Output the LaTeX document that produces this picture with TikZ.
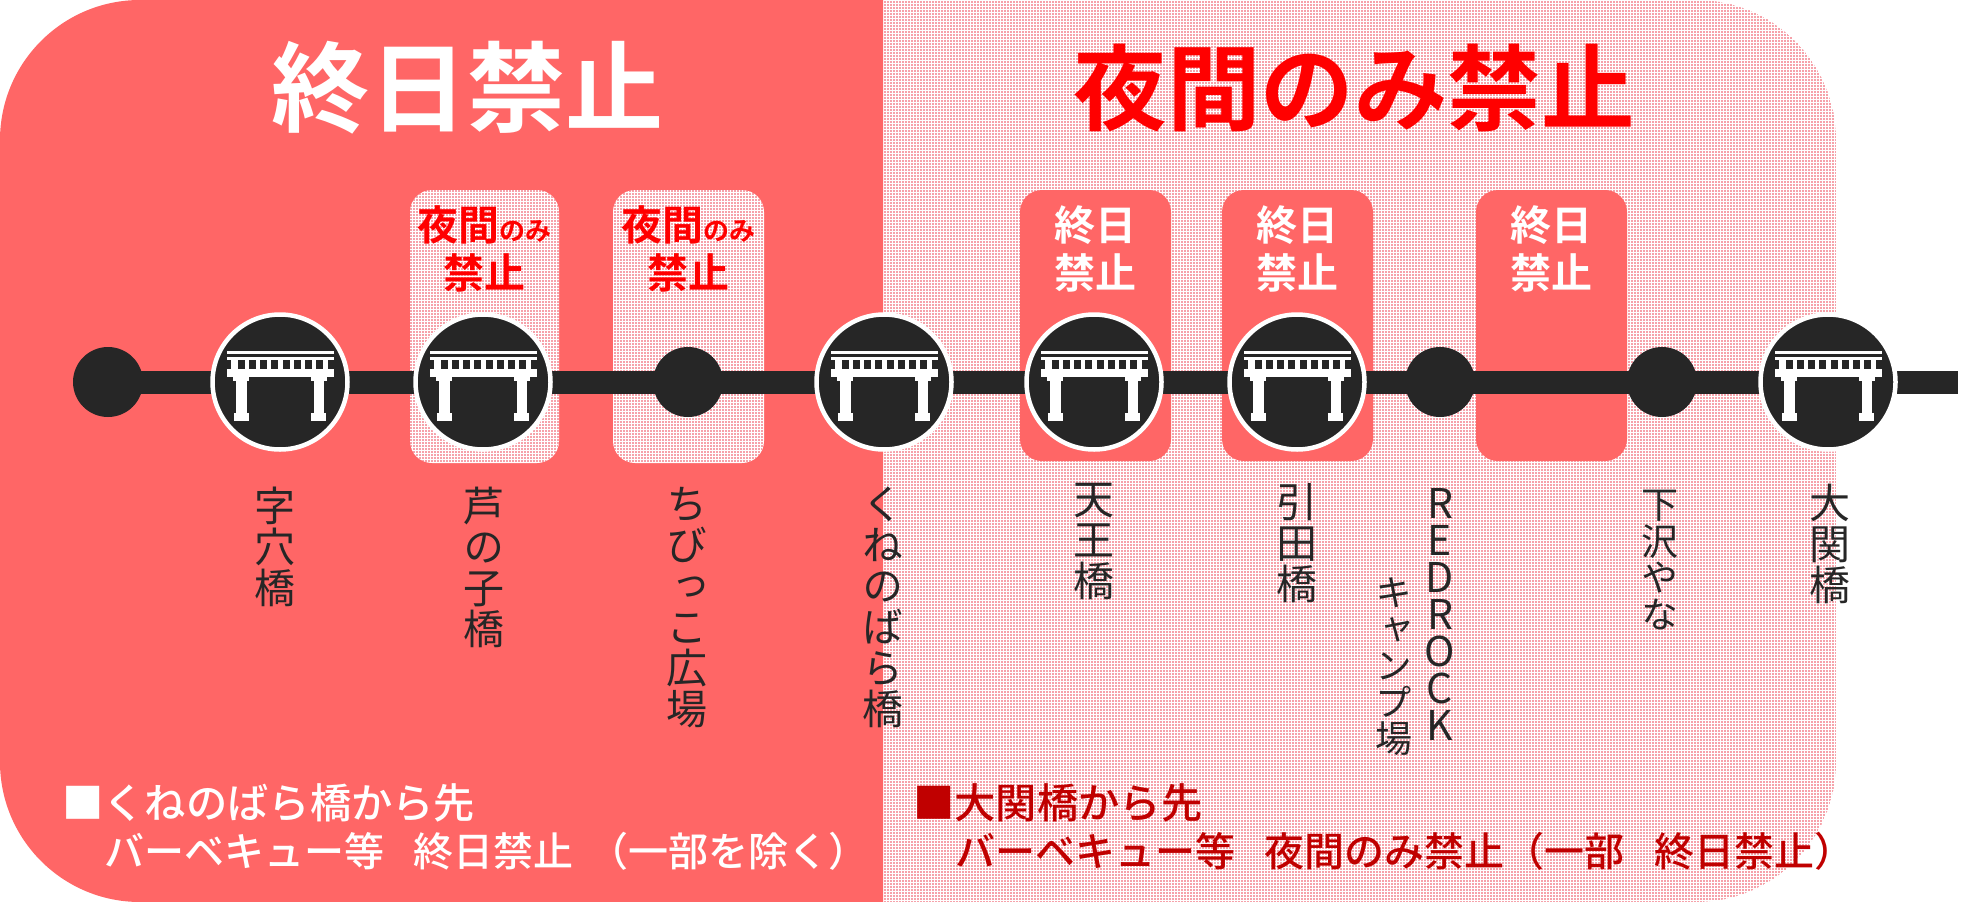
\documentclass[tikz,border=0pt]{standalone}
\usepackage{fontspec}
\setmainfont{Noto Sans CJK JP}[BoldFont={Noto Sans CJK JP Bold}]
\newfontfamily\vertfont{Noto Sans CJK JP}[RawFeature=+vert]
\newfontfamily\notefont{Noto Sans CJK JP Medium}
\usetikzlibrary{patterns.meta}
\definecolor{solidred}{HTML}{FF6666}
\definecolor{railblack}{HTML}{262626}
\definecolor{dotred}{HTML}{EE4453}
\definecolor{darkred}{HTML}{C00000}
\pgfdeclarelayer{bg}
\pgfsetlayers{bg,main}
\newcommand{\fs}[2]{\fontsize{#1}{#2}\selectfont}
\tikzset{
  x=1pt,y=-1pt,
  dotted area/.style={fill=white,postaction={pattern={Dots[radius=.8pt,distance=3pt]},pattern color=dotred}},
  dotpanel/.style={dotted area},
  solidpanel/.style={fill=solidred},
  rail/.style={draw=railblack,line width=23pt},
  stationdot/.style={circle,fill=railblack,minimum size=70pt,inner sep=0pt},
  bridgedisc/.style={circle,fill=railblack,draw=white,line width=4.5pt,minimum size=135pt,inner sep=0pt},
  vlabel/.style={anchor=north,inner sep=0pt,align=center,text=railblack,font=\vertfont\fs{41}{41}},
  vlatin/.style={vlabel,font=\vertfont\fs{41}{37}},
  vsmall/.style={vlabel,font=\vertfont\fs{37}{36.5}},
  paneltext/.style={inner sep=0pt,align=center,font=\bfseries\fs{41}{48}},
  titletext/.style={inner sep=0pt,font=\bfseries\fs{98}{98}},
  titletextb/.style={inner sep=0pt,font=\bfseries\fs{93.5}{98}},
  notetext/.style={anchor=west,inner sep=0pt,font=\notefont\fs{41.3}{47}},
  notetextb/.style={anchor=west,inner sep=0pt,font=\notefont\fs{40}{47}},
  torii/.pic={
    \begin{scope}[xshift=.4pt]
    \fill[white] (-53.3,-31.3) rectangle (53.3,-28);
    \fill[white] (-53.3,-25) rectangle (53.3,-21.7);
    \fill[white] (-49,-21.7) rectangle (49,-12.7);
    \foreach \k in {0,...,8}{\fill[railblack] ({-42.7+11.23*\k},-21.7) rectangle ++(7,9);}
    \fill[white] (-53.3,-12.7) rectangle (53.3,-5.3);
    \foreach \s in {-1,1}{
      \fill[white] ({\s*31},-5.3) rectangle ({\s*47},-1.3);
      \fill[white] ({\s*33.3},-1.3) rectangle ({\s*44},30.7);
      \fill[white] ({\s*31},30.7) rectangle ({\s*46},38.7);
    }
    \end{scope}
  }
}
\begin{document}
\begin{tikzpicture}
\useasboundingbox (0,0) rectangle (1970,902);
% stations
\node[stationdot] (s1) at (108,382) {};
\node[bridgedisc] (b1) at (280,382) {};
\node[bridgedisc] (b2) at (483,382) {};
\node[stationdot] (s2) at (688,382) {};
\node[bridgedisc] (b3) at (884,382) {};
\node[bridgedisc] (b4) at (1094,382) {};
\node[bridgedisc] (b5) at (1297,382) {};
\node[stationdot] (s3) at (1440,382) {};
\node[stationdot] (s4) at (1662,382) {};
\node[bridgedisc] (b6) at (1828,382) {};
\coordinate (railend) at (1957.5,382);
\foreach \n in {b1,b2,b3,b4,b5,b6}{\pic at (\n) {torii};}
\begin{pgfonlayer}{bg}
  \path[dotted area] (883,0) {[rounded corners=140pt] -- (1836,0) -- (1836,902)} -- (883,902) -- cycle;
  \path[solidpanel] (883,0) {[rounded corners=140pt] -- (0,0) -- (0,902)} -- (883,902) -- cycle;
  \path[dotpanel,rounded corners=22pt] (410,190) rectangle (559,463);
  \path[dotpanel,rounded corners=22pt] (613,190) rectangle (764,463);
  \path[solidpanel,rounded corners=22pt] (1020,190) rectangle (1171,461);
  \path[solidpanel,rounded corners=22pt] (1222,190) rectangle (1373,461);
  \path[solidpanel,rounded corners=22pt] (1476,190) rectangle (1627,461);
  \draw[rail] (s1.center) -- (b1.center) -- (b2.center) -- (s2.center) -- (b3.center) -- (b4.center) -- (b5.center) -- (s3.center) -- (s4.center) -- (b6.center) -- (railend);
\end{pgfonlayer}
% titles
\node[titletext,text=white] (t1) at (467,88) {終日禁止};
\node[titletextb,text=red] (t2) at (1354,88) {夜間のみ禁止};
% panel labels
\node[paneltext,text=red] (p1) at (484,249) {夜間{\fs{26}{26}のみ}\\禁止};
\node[paneltext,text=red] (p2) at (688,249) {夜間{\fs{26}{26}のみ}\\禁止};
\node[paneltext,text=white] (p3) at (1095,249) {終日\\禁止};
\node[paneltext,text=white] (p4) at (1297,249) {終日\\禁止};
\node[paneltext,text=white] (p5) at (1551,249) {終日\\禁止};
% station labels
\node[vlabel] (l1) at (275,487) {字\\穴\\橋};
\node[vlabel] (l2) at (484,487) {芦\\の\\子\\橋};
\node[vlabel] (l3) at (687,487) {ち\\び\\っ\\こ\\広\\場};
\node[vlabel] (l4) at (883,487) {く\\ね\\の\\ば\\ら\\橋};
\node[vlabel] (l5) at (1094,483) {天\\王\\橋};
\node[vlabel] (l6) at (1297,483) {引\\田\\橋};
\node[vlatin] (l7) at (1440,488) {R\\E\\D\\R\\O\\C\\K};
\node[vsmall] (l8) at (1394,578) {キ\\ャ\\ン\\プ\\場};
\node[vsmall] (l9) at (1660,490) {下\\沢\\や\\な};
\node[vlabel] (l10) at (1830,484) {大\\関\\橋};
% notes
\node[notetext,text=white] (n1) at (62,803) {■くねのばら橋から先};
\node[notetextb,text=white] (n2) at (104,851) {バーベキュー等\hspace{29pt}終日禁止\hspace{15pt}（一部を除く）};
\node[notetext,text=darkred] (n3) at (913,803) {■大関橋から先};
\node[notetextb,text=darkred] (n4) at (955,851) {バーベキュー等\hspace{29pt}夜間のみ禁止（一部\hspace{30pt}終日禁止）};
\end{tikzpicture}
\end{document}
